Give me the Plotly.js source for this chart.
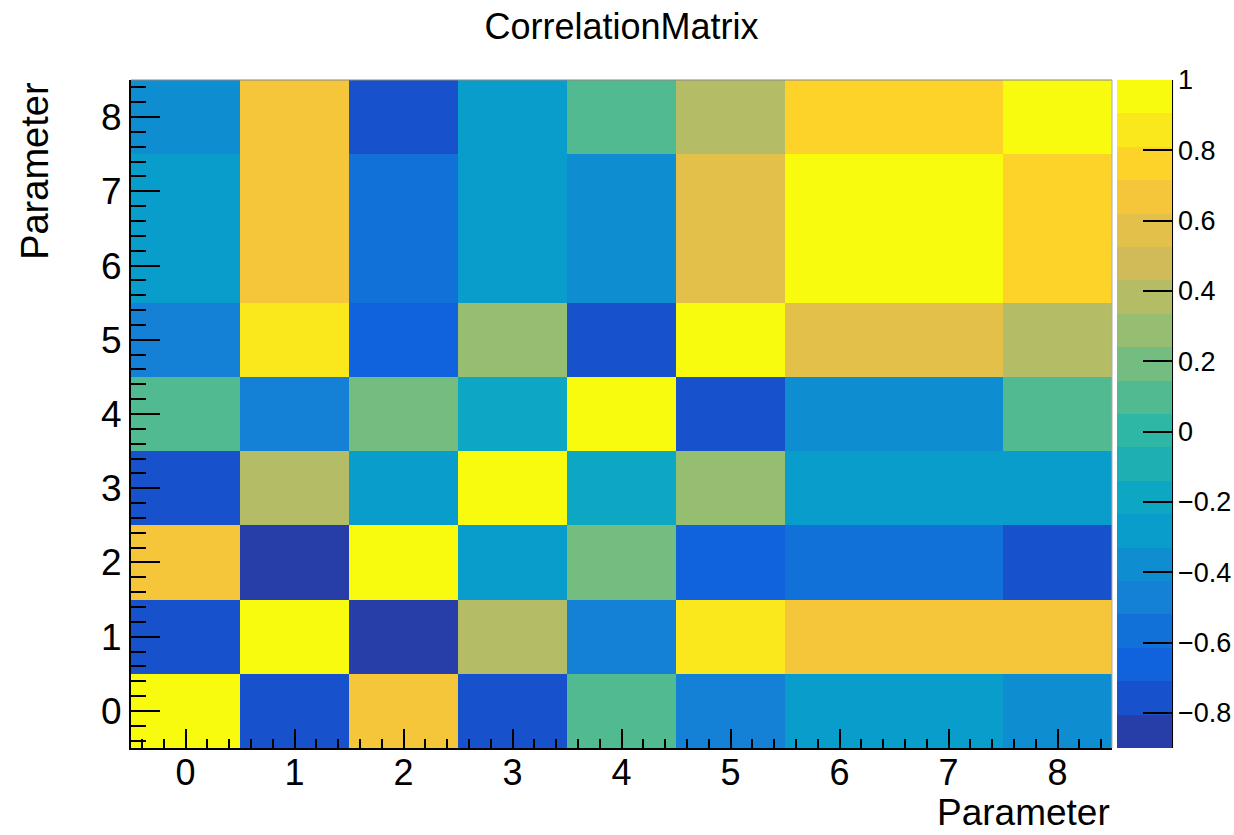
<!DOCTYPE html>
<html>
<head>
<meta charset="utf-8">
<script src="https://cdn.plot.ly/plotly-3.0.1.min.js"></script>
<style>
html,body{margin:0;padding:0;background:#fff;}
#chart{width:1234px;height:835px;}
</style>
</head>
<body>
<div id="chart"></div>
<script>
// ---- data ----
const params = [0, 1, 2, 3, 4, 5, 6, 7, 8];
const tickLabels = ["0", "1", "2", "3", "4", "5", "6", "7", "8"];
const row0 = [1.00, -0.76, 0.67, -0.76, 0.10, -0.47, -0.28, -0.28, -0.38];
const row1 = [-0.76, 1.00, -0.90, 0.38, -0.47, 0.86, 0.67, 0.67, 0.67];
const row2 = [0.67, -0.90, 1.00, -0.28, 0.19, -0.66, -0.57, -0.57, -0.76];
const row3 = [-0.76, 0.38, -0.28, 1.00, -0.19, 0.29, -0.28, -0.28, -0.28];
const row4 = [0.10, -0.47, 0.19, -0.19, 1.00, -0.76, -0.38, -0.38, 0.10];
const row5 = [-0.47, 0.86, -0.66, 0.29, -0.76, 1.00, 0.57, 0.57, 0.38];
const row6 = [-0.28, 0.67, -0.57, -0.28, -0.38, 0.57, 1.00, 1.00, 0.76];
const row7 = [-0.28, 0.67, -0.57, -0.28, -0.38, 0.57, 1.00, 1.00, 0.76];
const row8 = [-0.38, 0.67, -0.76, -0.28, 0.10, 0.38, 0.76, 0.76, 1.00];
const zMatrix = [row0, row1, row2, row3, row4, row5, row6, row7, row8];
const cbTicks = [-0.8, -0.6, -0.4, -0.2, 0, 0.2, 0.4, 0.6, 0.8, 1];

// ---- ROOT kBird palette, 20 contour bands ----
const birdStops = [0.0, 0.125, 0.25, 0.375, 0.5, 0.625, 0.75, 0.875, 1.0];
const birdR = [0.2082, 0.0592, 0.0780, 0.0232, 0.1802, 0.5301, 0.8186, 0.9956, 0.9764];
const birdG = [0.1664, 0.3599, 0.5041, 0.6419, 0.7178, 0.7492, 0.7328, 0.7862, 0.9832];
const birdB = [0.5293, 0.8684, 0.8385, 0.7914, 0.6425, 0.4662, 0.3499, 0.1968, 0.0539];
function bird(t) {
  let i = 0;
  while (i < birdStops.length - 2 && t > birdStops[i + 1]) i++;
  const f = (t - birdStops[i]) / (birdStops[i + 1] - birdStops[i]);
  const c = arr => Math.round(255 * (arr[i] + (arr[i + 1] - arr[i]) * f));
  return 'rgb(' + c(birdR) + ',' + c(birdG) + ',' + c(birdB) + ')';
}
const nBands = 20, nCols = 255;
const colorscale = [];
for (let k = 0; k < nBands; k++) {
  const idx = Math.floor((k + 0.99) * nCols / nBands);
  const col = bird(idx / (nCols - 1));
  colorscale.push([k / nBands, col]);
  colorscale.push([(k + 1) / nBands, col]);
}

const FONT = '"Liberation Sans", Arial, Helvetica, sans-serif';

const trace = {
  type: 'heatmap',
  x: params,
  y: params,
  z: zMatrix,
  zmin: -0.9,
  zmax: 1.0,
  colorscale: colorscale,
  hoverinfo: 'skip',
  colorbar: {
    x: 1.0051, xanchor: 'left', xpad: 0,
    y: 0.5, yanchor: 'middle', ypad: 0,
    len: 1, lenmode: 'fraction',
    thickness: 55, thicknessmode: 'pixels',
    outlinewidth: 0,
    tickmode: 'array',
    tickvals: cbTicks,
    ticktext: cbTicks.map(v => v === 0 ? '0' : (v < 0 ? '\u2212' + Math.abs(v) : String(v))),
    ticks: 'inside', ticklen: 29, tickwidth: 2, tickcolor: '#000',
    tickfont: {family: FONT, size: 27, color: '#000'}
  }
};

const layout = {
  width: 1234, height: 835,
  margin: {l: 131, r: 122, t: 80, b: 87, autoexpand: false},
  paper_bgcolor: '#fff', plot_bgcolor: '#fff',
  font: {family: FONT, color: '#000'},
  title: {text: 'CorrelationMatrix', font: {family: FONT, size: 36, color: '#000'},
          x: 0.5, xref: 'paper', xanchor: 'center', y: 0.968, yref: 'container', yanchor: 'middle'},
  xaxis: {
    range: [-0.5, 8.5], tickmode: 'array', tickvals: params, ticktext: tickLabels,
    ticks: 'inside', ticklen: 19, tickwidth: 2, tickcolor: '#000',
    minor: {dtick: 0.2, tick0: 0, ticks: 'inside', ticklen: 9.5, tickwidth: 2, tickcolor: '#000'},
    showline: true, linecolor: '#000', linewidth: 2, mirror: false,
    showgrid: false, zeroline: false, fixedrange: true, automargin: false,
    ticklabelstandoff: -8,
    tickfont: {family: FONT, size: 36, color: '#000'}
  },
  yaxis: {
    range: [-0.5, 8.5], tickmode: 'array', tickvals: params, ticktext: tickLabels,
    ticks: 'inside', ticklen: 29, tickwidth: 2, tickcolor: '#000',
    minor: {dtick: 0.2, tick0: 0, ticks: 'inside', ticklen: 14.5, tickwidth: 2, tickcolor: '#000'},
    showline: true, linecolor: '#000', linewidth: 2, mirror: false,
    showgrid: false, zeroline: false, fixedrange: true, automargin: false,
    tickfont: {family: FONT, size: 37, color: '#000'}
  },
  shapes: [
    {type: 'line', xref: 'paper', yref: 'paper', x0: 0, x1: 1, y0: 1, y1: 1, line: {color: '#888', width: 1}},
    {type: 'line', xref: 'paper', yref: 'paper', x0: 1, x1: 1, y0: 0, y1: 1, line: {color: '#aaa', width: 1}},
    {type: 'line', xref: 'paper', yref: 'paper', x0: 1.0612, x1: 1.0612, y0: 0, y1: 1, line: {color: '#000', width: 2}}
  ],
  annotations: [
    {text: 'Parameter', xref: 'paper', yref: 'paper', x: 1, y: -0.096, xanchor: 'right', yanchor: 'middle',
     showarrow: false, font: {family: FONT, size: 37, color: '#000'}},
    {text: 'Parameter', xref: 'paper', yref: 'paper', x: -0.098, y: 1, xanchor: 'center', yanchor: 'top',
     textangle: -90, showarrow: false, font: {family: FONT, size: 38, color: '#000'}}
  ]
};

Plotly.newPlot('chart', [trace], layout, {displayModeBar: false, staticPlot: true});
</script>
</body>
</html>
